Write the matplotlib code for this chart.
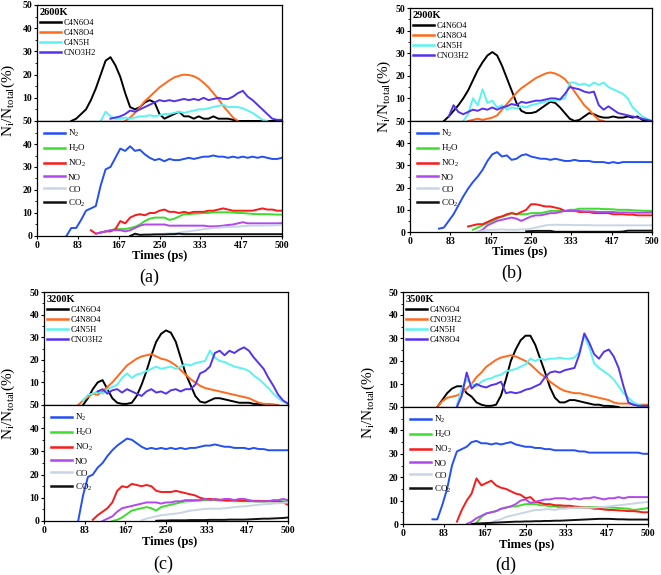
import numpy as np
import matplotlib
matplotlib.use('Agg')
import matplotlib.pyplot as plt
from matplotlib.ticker import MultipleLocator

plt.rcParams['font.family'] = ['Liberation Serif', 'DejaVu Serif']
plt.rcParams['mathtext.fontset'] = 'custom'
plt.rcParams['mathtext.rm'] = 'Liberation Serif'
plt.rcParams['mathtext.it'] = 'Liberation Serif:italic'
plt.rcParams['mathtext.bf'] = 'Liberation Serif:bold'

# ---------------- data ----------------
STEP = 10  # ps between samples
X_TICKS = [0, 83, 167, 250, 333, 417, 500]
TEMPS = ['2600K', '2900K', '3200K', '3500K']
TOP_NAMES_ABC = ['C4N6O4', 'C4N8O4', 'C4N5H', 'CNO3H2']
TOP_NAMES_D = ['C4N6O4', 'CNO3H2', 'C4N5H', 'C4N8O4']
BOTTOM_NAMES = ['N$_2$', 'H$_2$O', 'NO$_2$', 'NO', 'CO', 'CO$_2$']

# (a) 2600K  -- start times (ps) then values every 10 ps
a_top_start = [70, 180, 130, 150]
a_C4N6O4 = [0, 1, 3, 5, 9, 14, 20, 26, 27.5, 24, 19, 12, 6, 5, 6, 8, 9, 8, 3, 1,
            2, 3, 4, 2, 2, 1, 2, 1, 1, 2, 1, 1, 1, 0.5, 0, 0, 0, 0, 0, 0, 0, 0, 0, 0]
a_C4N8O4 = [0, 1.5, 3.5, 6, 8.5, 10.5, 12.5, 14.5, 16, 17.5, 18.8, 19.5, 20, 19.8, 19.3,
            18.2, 16.5, 14.5, 12, 9.5, 6.5, 4, 1.5, 0]
a_C4N5H = [0, 4, 2, 1, 1, 1.5, 1, 1.5, 2, 2, 2.5, 2, 2.5, 3, 3, 3.5, 4, 3.5, 4, 4.5,
           5, 5, 5.5, 6, 6.5, 7, 6, 6, 6, 5.5, 4.5, 3.5, 2, 0.5, 0]
a_CNO3H2 = [1, 1.5, 2, 3, 4.5, 4, 5, 6, 7, 8, 9, 8.5, 9, 8.5, 9, 9.5, 9, 9.5, 9, 10,
            9, 9.5, 10, 9.5, 9.5, 10.5, 12, 13, 10.5, 9, 7, 5, 3, 1, 0.5, 0.5]
a_bot_start = [60, 130, 110, 120, 190, 190]
a_N2 = [0, 3.5, 3.5, 7, 11, 12, 13, 22, 29, 30, 34, 38, 37, 39, 37, 37.5, 35.5, 34, 33, 33.5,
        32.5, 33.5, 33, 33, 33.5, 34, 33.5, 34, 34.5, 34.5, 35, 34.5, 34.5, 34, 34.5, 34, 34.5, 34,
        34.5, 34, 34.5, 34, 33.5, 33.5, 34]
a_H2O = [1.5, 2, 2.5, 3, 3, 3, 3.5, 4, 5, 6.5, 7.5, 8, 8, 8, 7, 7.5, 8.5, 9.5, 9.5, 9.7,
         9.8, 10, 10, 10.3, 10.3, 10.3, 10.3, 10.2, 10, 10, 9.8, 9.6, 9.5, 9.5, 9.5, 9.4, 9.3, 9.3]
a_NO2 = [2.5, 1, 1.5, 2, 2, 3, 6.5, 5.5, 8, 9, 9.5, 9, 10, 10, 11, 11.5, 10.5, 10.5, 10, 10.5,
         10, 10.5, 10.5, 10.5, 11, 11, 11.5, 12, 11.5, 11, 11, 11, 11, 11, 11.5, 12, 11.5, 11.5, 11, 11]
a_NO = [1, 1.5, 2, 2.5, 2.5, 2.5, 2, 2.5, 3.5, 4.5, 5, 5, 5, 5, 5, 4.5, 4.5, 4.5, 4.5, 4.5,
        4.5, 4.5, 4.5, 4.2, 4.2, 4.3, 4.5, 4.8, 5, 5.5, 6, 5.5, 5.5, 5.5, 5.5, 5.5, 5.5, 5.5, 5.6]
a_CO = [0, 0.3, 0.4, 0.5, 0.6, 0.7, 0.8, 1, 1.1, 1.2, 1.4, 1.8, 2, 2.3, 2.6, 3, 3.2, 3.5, 3.6, 3.8,
        3.9, 4, 4.1, 4.3, 4.4, 4.5, 4.5, 4.5, 4.6, 4.6, 4.7, 4.7]
a_CO2 = [0, 1, 0.5, 0.6, 0.6, 0.7, 0.7, 0.7, 0.8, 0.8, 1, 0.8, 0.8, 0.8, 0.8, 0.8, 0.8, 0.8, 0.8, 0.8,
         0.8, 0.8, 0.8, 0.8, 0.8, 0.8, 0.8, 0.8, 0.8, 0.8, 0.8, 0.8]

# (b) 2900K
b_top_start = [70, 120, 110, 80]
b_C4N6O4 = [0, 2, 4.5, 7, 10, 13.5, 18, 22.5, 26, 29, 30.5, 29, 24.5, 19, 13.5, 8, 4.5, 3.5, 3.5, 4,
            5.5, 7, 8.5, 8, 6, 3.5, 1, 0, 0.5, 2, 3.5, 3, 2, 1.5, 1.5, 2, 1.5, 1.5, 2, 1.5, 2, 0.5, 0, 0]
b_C4N8O4 = [0, 0.5, 1, 0.5, 1, 1.5, 2.5, 5, 7.5, 10, 12.5, 14.5, 16, 17.5, 19, 20, 21, 21.5, 21, 20,
            18.5, 16, 13, 10, 7, 5, 2.5, 0.5, 0]
b_C4N5H = [0, 3, 10, 7, 14, 8, 9, 6, 7, 5, 6, 5.5, 6.5, 6, 7, 7.5, 8, 8.5, 9, 9,
           9.5, 10, 17, 17, 16, 16.5, 15.5, 17, 16, 17, 15, 14, 13, 12, 10, 6, 4, 2, 1, 0]
b_CNO3H2 = [2, 7, 4, 3, 4, 5, 4.5, 5.5, 5, 6, 5, 6, 6.5, 7.5, 7, 8.5, 8, 8.5, 9, 9,
            9.5, 10, 10, 9.5, 12, 15, 14.5, 14, 13, 12.5, 13, 7, 5, 6.5, 5, 3.5, 3, 2.5, 2, 1.5, 1, 0.5, 0]
b_bot_start = [60, 130, 120, 140, 140, 240]
b_N2 = [1.5, 2, 5, 8, 12, 16, 19.5, 22.5, 25, 28, 32, 35, 36, 34, 34.5, 32.5, 33, 34.5, 35, 34,
        33.5, 33, 33, 32.5, 33, 32.5, 32, 32, 32.5, 32, 32, 32, 31.5, 31.5, 31.5, 31, 31.5, 31, 31.5, 31.5,
        31.5, 31.5, 31.5, 31.5, 31.5]
b_H2O = [1, 2, 3, 4, 5, 6, 7, 7.5, 8.5, 8, 8, 8, 8.5, 8.5, 8.5, 9, 9.5, 9.5, 9.5, 9.5,
         10, 10, 10.5, 10.5, 10.5, 10.5, 10.5, 10.3, 10.3, 10.2, 10, 10, 10, 9.8, 9.7, 9.6, 9.5, 9.5]
b_NO2 = [2.5, 3, 3.5, 3.5, 4.5, 5.5, 6.5, 7, 8, 8.5, 8, 9, 10, 12.5, 12.5, 12, 11.5, 11.5, 11, 10.5,
         9.5, 9.5, 9.5, 9, 9, 9, 8.5, 8.5, 8.5, 8.5, 8, 8, 8, 7.8, 7.8, 7.5, 7.5, 7.5, 7.5]
b_NO = [0, 1, 3, 4, 5, 5.5, 6, 6.5, 6, 5, 6, 7, 7.5, 7.5, 8, 8.5, 8.5, 9, 9.5, 9.5,
        9.5, 9.5, 9.3, 9.3, 9.2, 9, 9, 9, 9, 8.8, 8.8, 8.8, 8.7, 8.7, 8.7, 8.7, 8.8]
b_CO = [0, 0.5, 0.8, 1, 1, 1.2, 1, 1, 1, 1.2, 1.2, 1.5, 2, 2.5, 3, 3.2, 3.3, 3.2, 3.2, 3.2,
        3.1, 3.1, 3.1, 3.1, 3, 3, 3, 3, 3, 3, 3, 3, 3, 3, 3, 3, 3]
b_CO2 = [0.3, 0.4, 0.5, 0.5, 0.5, 0.5, 0.1, 0.1, 0.1, 0.1, 0.1, 0.1, 0.1, 0.1, 0.1, 0.1, 0.1, 0.1,
         0.1, 0.1, 0.2, 0.6, 0.6, 0.6, 0.6, 0.6, 0.6]

# (c) 3200K
c_top_start = [80, 70, 80, 110]
c_C4N6O4 = [0, 3, 7, 10, 11, 7, 3, 1, 0.5, 0.5, 1, 4, 9, 15, 22, 28, 31.5, 33, 32, 28,
            21, 14, 9, 4, 1.5, 1, 2, 3, 3, 2.5, 2, 1.5, 1, 1, 1, 0.5, 0.5, 0]
c_C4N8O4 = [0, 2, 3.5, 5, 4.5, 6, 8, 10, 12.5, 15, 17.5, 19, 20.5, 21.5, 22, 22.5, 21.5, 20.5, 20, 19,
            17.5, 15.5, 13.5, 11.5, 10, 8.5, 7.5, 7, 6.5, 6, 5.5, 5, 4.5, 4, 3.5, 3, 2, 1, 0.5, 0.5,
            0.3, 0]
c_C4N5H = [2, 4.5, 5, 6, 5, 7, 8, 9, 12, 14, 12, 13.5, 14, 15, 16, 17, 16, 16.5, 17, 16,
           17, 18, 17.5, 18.5, 19, 19.5, 24, 21, 19.5, 19, 18, 17, 16.5, 16, 15, 13, 11.5, 9.5, 7.5, 5,
           3, 1.5, 1]
c_CNO3H2 = [6, 7, 5, 6.5, 7, 5.5, 7, 6, 5, 4, 6, 7, 5.5, 6, 5, 6.5, 7, 6, 7, 7,
            9, 14, 15, 17, 23, 24, 22, 24, 23, 24.5, 25.5, 24, 21, 18.5, 16, 12, 8.5, 4.5, 2, 0.5]
c_bot_start = [70, 140, 100, 120, 200, 230]
c_N2 = [0, 11, 19, 20, 23, 25, 28, 30.5, 32.5, 34, 35.5, 35, 33.5, 32, 31, 31.5, 31, 31.5, 31, 31.5,
        31, 31.5, 31, 31.5, 31.5, 32, 32.5, 32.5, 33, 32.5, 32, 32, 31.5, 31.5, 31.5, 31, 31.5, 31, 31, 30.5,
        30.5, 30.5, 30.5, 30.5]
c_H2O = [0, 0.5, 1.5, 3, 4.5, 5, 5.5, 6, 5.5, 4.5, 6, 6.5, 7, 7.5, 8, 8.5, 8.5, 8.7, 8.8, 9,
         9, 9, 8.8, 8.7, 8.6, 8.5, 8.5, 8.5, 8.5, 8.5, 8.4, 8.4, 8.5, 8.5, 8.5, 8.5, 8.5]
c_NO2 = [0.5, 2.5, 4, 5.5, 8, 13, 15, 14.5, 16, 15.5, 15, 15.5, 15, 13, 12.5, 12.5, 12.5, 13, 12.5, 12,
         11.5, 11, 10, 9.5, 9.5, 9.3, 9.2, 9, 9, 9, 8.8, 8.8, 8.7, 8.7, 8.7, 8.6, 8.6, 8.5, 8.5, 8, 7]
c_NO = [0, 1, 2, 4, 5.5, 6, 6.5, 7, 7.5, 8, 8, 8, 7.5, 8, 8, 8.5, 8.5, 9, 9, 9,
        9, 9.5, 9, 9.5, 9, 9.5, 9.5, 9, 9.5, 9.5, 9, 8.5, 8.5, 8.5, 8.5, 9, 9, 9.5, 9]
c_CO = [0.3, 1, 1.5, 2, 2.5, 2.7, 3, 3.2, 3.5, 4, 4.5, 4.7, 5, 5.2, 5.3, 5.3, 5.3, 5.5, 5.7, 6,
        6.2, 6.3, 6.5, 6.8, 7, 7.2, 7.3, 7.5, 7.6, 7.8, 8]
c_CO2 = [0.1, 0.2, 0.2, 0.3, 0.3, 0.3, 0.3, 0.4, 0.4, 0.4, 0.4, 0.5, 0.5, 0.5, 0.5, 0.6, 0.6, 0.6,
         0.6, 0.7, 0.8, 0.9, 1, 1, 1.1, 1.2, 1.3, 1.5]

# (d) 3500K  (legend order: C4N6O4, CNO3H2, C4N5H, C4N8O4)
d_top_start = [70, 70, 110, 110]
d_C4N6O4 = [0, 3, 6, 8, 9, 9, 6, 4.5, 2, 1, 0.5, 0.5, 1, 5, 12, 20, 25, 29, 31, 31,
            27, 21, 15, 8.5, 4, 2, 2, 3, 3, 2.5, 2, 1.5, 1, 1, 0.5, 0.5, 0.3, 0]
d_CNO3H2 = [0, 2.5, 4, 4.5, 5, 6, 8, 10, 13, 15, 17.5, 19, 20.5, 21.5, 22, 22.5, 22, 21, 20, 18.5,
            16.5, 14.5, 13, 11, 9.5, 8, 7, 6.5, 6, 6, 5.5, 5, 4.5, 4, 3.5, 3, 2, 1.5, 1.5, 1.5,
            1, 1, 1, 1]
d_C4N5H = [1, 8, 12, 10, 9, 11, 12, 12.5, 13.5, 14, 15.5, 16, 16.5, 17.5, 18.5, 21, 20, 21, 20.5, 21,
           21, 21.5, 21, 21, 21.5, 24, 31, 26, 19, 17, 15.5, 14, 12, 9, 6, 4, 2, 1, 0.5, 0.5]
d_C4N8O4 = [0, 5, 15, 8, 10, 9, 8.5, 9.5, 10, 11, 6, 6.5, 6, 6.5, 7.5, 8, 9, 10, 13, 15,
            15.5, 15, 16, 16.5, 17, 23, 32, 28, 23, 21, 24, 25, 22, 17, 9, 2, 1, 0.5, 0.5, 0.5]
d_bot_start = [60, 150, 110, 130, 180, 140]
d_N2 = [2, 2, 8, 15, 25, 31, 32, 33, 35, 35.5, 34.5, 34.5, 34, 34.5, 34, 34.5, 35, 34, 33.5, 33,
        33, 32.5, 32.5, 32, 32, 31.5, 31.5, 31.5, 31.5, 31.5, 31, 31, 30.5, 30.5, 30.5, 30.5, 30.5, 30.5,
        30.5, 30.5, 30.5, 30.5, 30.5, 30, 30]
d_H2O = [0.5, 3, 4.5, 5, 5.5, 6.5, 7, 7.5, 7.5, 8, 8.5, 8.5, 8.5, 8, 8, 7.5, 7.5, 7.2, 7, 7,
         7, 7, 7.2, 7.3, 7.3, 7.2, 7, 7, 7, 6.8, 6.7, 6.5, 6, 6.2, 6.5, 6.8]
d_NO2 = [1, 6, 10, 13, 19.5, 16.5, 17.5, 18.5, 16.5, 15.5, 15, 14, 13, 12.5, 11, 11.5, 9.5, 9, 8.5, 8.5,
         8, 8, 7.8, 7.8, 7.5, 7.3, 7, 7, 6.5, 6.5, 6.2, 6, 6, 5.8, 5.7, 5.5, 5.5, 5.3, 5, 5]
d_NO = [0, 1, 2.5, 3.5, 4.5, 5, 5.5, 6.5, 7, 7.5, 8.5, 10, 10.5, 9, 9.5, 10, 10.5, 10.5, 11, 11,
        11, 10.5, 11, 10.5, 11, 11, 11.5, 11, 10.5, 11, 11, 11.5, 11, 11.5, 11.5, 11.5, 11.5, 11.5]
d_CO = [0.5, 1.5, 2, 3, 3.5, 4, 4.5, 5, 5.5, 6, 6, 6.3, 6.3, 6, 6.5, 6.5, 6.8, 7, 7, 7,
        7, 7, 7.2, 7.3, 7.5, 7.8, 8, 8.2, 8.5, 8.7, 9, 9.2, 9.5]
d_CO2 = [0, 0.2, 0.3, 0.4, 0.5, 0.6, 0.7, 0.8, 0.9, 1, 1, 1.1, 1.1, 1.2, 1.2, 1.3, 1.3, 1.4, 1.4, 1.5,
         1.6, 1.7, 1.8, 1.9, 2, 2.1, 2.2, 2.2, 2.2, 2.1, 2, 2, 1.9, 1.9, 1.9, 1.9, 1.9]

# ---------------- style / layout ----------------
TOP_COLORS = ['#000000', '#FF6A1C', '#5CF2F2', '#5533EE']
BOTTOM_COLORS = ['#2450F2', '#3EDC2E', '#F51C1C', '#B048EE', '#C9D5E6', '#111111']

W, H = 661, 575
fig = plt.figure(figsize=(W / 100, H / 100), dpi=100)


def add_ax(x0, y0, x1, y1):
    return fig.add_axes([x0 / W, 1 - y1 / H, (x1 - x0) / W, (y1 - y0) / H])


def style(ax, top):
    ax.set_xlim(0, 500)
    ax.set_ylim(0, 50)
    ax.set_xticks(X_TICKS)
    if top:
        ax.set_yticks([10, 20, 30, 40, 50])
        ax.tick_params(axis='x', labelbottom=False)
    else:
        ax.set_yticks([0, 10, 20, 30, 40, 50])
    ax.yaxis.set_minor_locator(MultipleLocator(5))
    ax.tick_params(which='major', direction='out', length=2.5, width=0.8, labelsize=7, pad=1)
    ax.tick_params(which='minor', direction='out', length=1.5, width=0.6)
    for lab in ax.get_xticklabels() + ax.get_yticklabels():
        lab.set_fontweight('bold')
    for s in ax.spines.values():
        s.set_linewidth(0.9)


def draw(ax, starts, series, colors, lw=1.4):
    lines = []
    for st, vals, col in zip(starts, series, colors):
        t = st + STEP * np.arange(len(vals))
        ln, = ax.plot(t, vals, color=col, lw=lw)
        lines.append(ln)
    return lines


panels = [
    dict(temp=TEMPS[0], names=TOP_NAMES_ABC, tstart=a_top_start,
         top=[a_C4N6O4, a_C4N8O4, a_C4N5H, a_CNO3H2], bstart=a_bot_start,
         bot=[a_N2, a_H2O, a_NO2, a_NO, a_CO, a_CO2],
         box=(37, 5, 282, 121, 236), ylab=(8, 100), xlab=(160, 256), plab=('(a)', 149, 277)),
    dict(temp=TEMPS[1], names=TOP_NAMES_ABC, tstart=b_top_start,
         top=[b_C4N6O4, b_C4N8O4, b_C4N5H, b_CNO3H2], bstart=b_bot_start,
         bot=[b_N2, b_H2O, b_NO2, b_NO, b_CO, b_CO2],
         box=(410, 8, 652, 121, 232), ylab=(384, 96), xlab=(520, 252), plab=('(b)', 512, 273)),
    dict(temp=TEMPS[2], names=TOP_NAMES_ABC, tstart=c_top_start,
         top=[c_C4N6O4, c_C4N8O4, c_C4N5H, c_CNO3H2], bstart=c_bot_start,
         bot=[c_N2, c_H2O, c_NO2, c_NO, c_CO, c_CO2],
         box=(44, 292, 288, 405, 521), ylab=(8, 403), xlab=(170, 542), plab=('(c)', 163, 564)),
    dict(temp=TEMPS[3], names=TOP_NAMES_D, tstart=d_top_start,
         top=[d_C4N6O4, d_CNO3H2, d_C4N5H, d_C4N8O4], bstart=d_bot_start,
         bot=[d_N2, d_H2O, d_NO2, d_NO, d_CO, d_CO2],
         box=(403, 292, 648, 407, 524), ylab=(368, 402), xlab=(527, 545), plab=('(d)', 506, 565)),
]

for p in panels:
    x0, y0, x1, yj, y2 = p['box']
    axt = add_ax(x0, y0, x1, yj)
    axb = add_ax(x0, yj, x1, y2)
    style(axt, True)
    style(axb, False)

    lt = draw(axt, p['tstart'], p['top'], TOP_COLORS)
    lb = draw(axb, p['bstart'], p['bot'], BOTTOM_COLORS)

    leg = axt.legend(lt, p['names'], loc='upper left', bbox_to_anchor=(0, 1), frameon=False,
                     fontsize=6, handlelength=2.5, handletextpad=0.35, labelspacing=0.25,
                     borderaxespad=0.15, borderpad=0.2, title=p['temp'],
                     title_fontproperties={'weight': 'bold', 'size': 7.5}, alignment='left')
    for h in leg.legend_handles:
        h.set_linewidth(1.8)
    leg2 = axb.legend(lb, BOTTOM_NAMES, loc='upper left', bbox_to_anchor=(0, 1), frameon=False,
                      fontsize=6.5, handlelength=2.3, handletextpad=0.35, labelspacing=0.42,
                      borderaxespad=0.4, borderpad=0.4)
    for h in leg2.legend_handles:
        h.set_linewidth(1.8)

    fig.text(p['ylab'][0] / W, 1 - p['ylab'][1] / H, r'$\mathregular{N_i/N_{total}(\%)}$',
             rotation=90, ha='center', va='center', fontsize=11)
    fig.text(p['xlab'][0] / W, 1 - p['xlab'][1] / H, 'Times (ps)', ha='center', va='center',
             fontsize=9, fontweight='bold')
    fig.text(p['plab'][1] / W, 1 - p['plab'][2] / H, p['plab'][0], ha='center', va='center',
             fontsize=13)

fig.savefig('out.png', dpi=100)
